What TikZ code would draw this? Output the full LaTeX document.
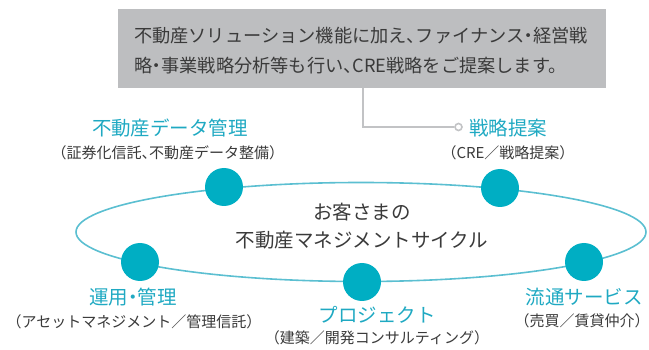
\documentclass[tikz,border=0pt]{standalone}
\usepackage{fontspec}
\setmainfont{Noto Sans CJK JP}
\usetikzlibrary{shapes.geometric}
\definecolor{boxgray}{HTML}{BDBEC0}
\definecolor{linegray}{HTML}{C2C3C5}
\definecolor{dotcyan}{HTML}{00AEC3}
\definecolor{ringcyan}{HTML}{5BBFD1}
\definecolor{namecyan}{HTML}{1FA9C2}
\definecolor{textgray}{HTML}{3A3A3A}
\newcommand\halfp[1]{{\addfontfeature{RawFeature=+halt}#1}}

\tikzset{
  stage/.style={circle, fill=dotcyan, minimum size=38pt, inner sep=0pt},
  stagename/.style={text=namecyan, font=\fontsize{19.5}{22}\selectfont, inner sep=0pt},
  stagenote/.style={text=textgray, font=\fontsize{15}{18}\selectfont, inner sep=0pt}
}

\begin{document}
\begin{tikzpicture}[x=1pt, y=-1pt]
\useasboundingbox (0,0) rectangle (649,350);

% top box
\node[rectangle, fill=boxgray, minimum width=488pt, minimum height=79pt, inner sep=0pt] (intro) at (362, 48.5) {};
\node[anchor=west, inner sep=0pt, align=left, text=textgray, font=\fontsize{18.2}{30}\selectfont] (introtext) at (134, 51) {不動産ソリューション機能に加え\halfp{、}ファイナンス\halfp{・}経営戦\\略\halfp{・}事業戦略分析等も行い\halfp{、}CRE戦略をご提案します。};

% ring
\node[ellipse, draw=ringcyan, line width=1.6pt, minimum width=570pt, minimum height=99pt, inner sep=0pt] (ring) at (361, 232) {};
\node[align=center, text=textgray, font=\fontsize{19.5}{28}\selectfont] (cycle) at (362, 226) {お客さまの\\不動産マネジメントサイクル};

% stages
\node[stage] (s0) at (224, 187) {};
\node[stagename] (n0) at (170, 128) {不動産データ管理};
\node[stagenote] (m0) at (168, 153) {（証券化信託\halfp{、}不動産データ整備）};

\node[stage] (s1) at (500, 188) {};
\node[stagename] (n1) at (508, 128) {戦略提案};
\node[stagenote] (m1) at (508, 153) {（CRE／戦略提案）};

\node[stage] (s2) at (584, 262) {};
\node[stagename] (n2) at (584, 297) {流通サービス};
\node[stagenote] (m2) at (582, 321) {（売買／賃貸仲介）};

\node[stage] (s3) at (362, 282) {};
\node[stagename] (n3) at (377, 315) {プロジェクト};
\node[stagenote] (m3) at (377, 338) {（建築／開発コンサルティング）};

\node[stage] (s4) at (140, 262) {};
\node[stagename] (n4) at (133, 297) {運用\halfp{・}管理};
\node[stagenote] (m4) at (134, 322) {（アセットマネジメント／管理信託）};

% box to strategy
\coordinate (bend) at (363, 127);
\node[circle, draw=linegray, line width=1.6pt, fill=white, minimum size=7pt, inner sep=0pt] (tip) at (458.5, 127) {};
\draw[linegray, line width=1.6pt] ([xshift=1pt]intro.south) -- (bend) -- (tip.west);

\end{tikzpicture}
\end{document}
